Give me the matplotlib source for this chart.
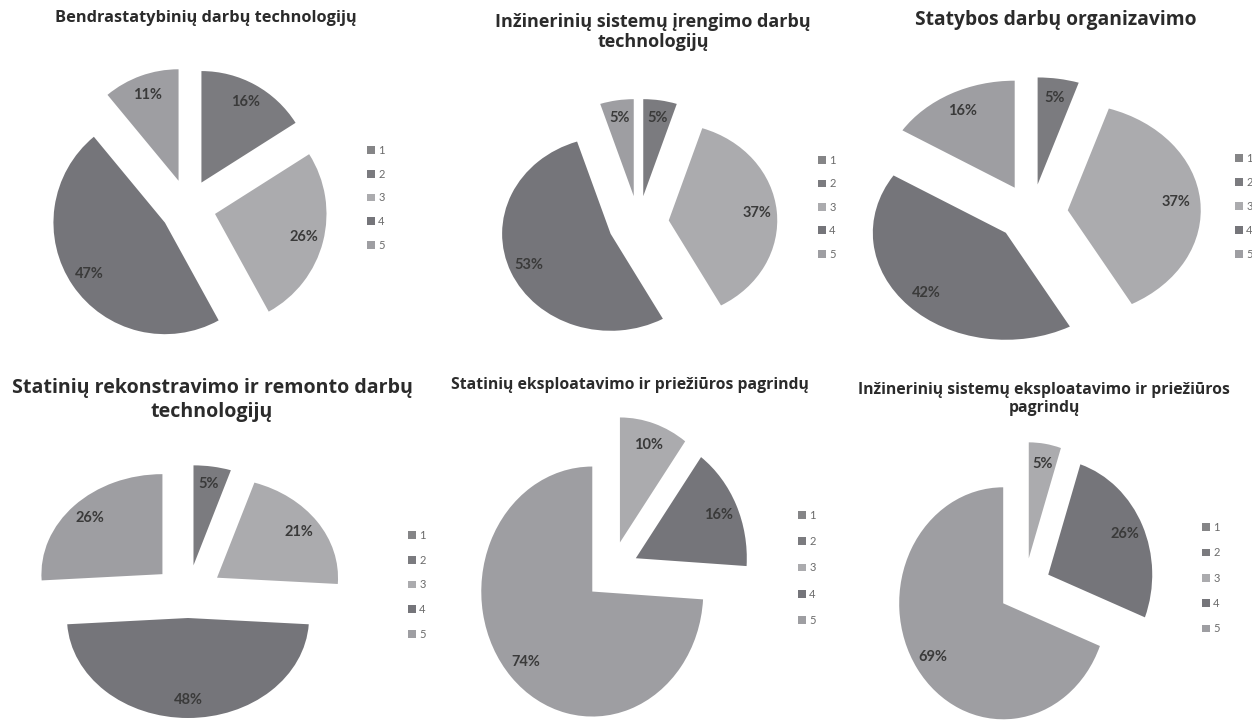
import matplotlib.pyplot as plt

W, H = 1252, 724

plt.rcParams['font.family'] = ['Lato', 'DejaVu Sans']

categories = ['1', '2', '3', '4', '5']
titles = [
    'Bendrastatybinių darbų technologijų',
    'Inžinerinių sistemų įrengimo darbų\ntechnologijų',
    'Statybos darbų organizavimo',
    'Statinių rekonstravimo ir remonto darbų\ntechnologijų',
    'Statinių eksploatavimo ir priežiūros pagrindų',
    'Inžinerinių sistemų eksploatavimo ir priežiūros\npagrindų',
]

# percentage of answers per category 1..5
shares_general = [0, 16, 26, 47, 11]
shares_eng_install = [0, 5, 37, 53, 5]
shares_organisation = [0, 5, 37, 42, 16]
shares_reconstruction = [0, 5, 21, 48, 26]
shares_building_maint = [0, 0, 10, 16, 74]
shares_eng_maint = [0, 0, 5, 26, 69]

all_shares = [shares_general, shares_eng_install, shares_organisation,
              shares_reconstruction, shares_building_maint, shares_eng_maint]

colors = ['#858587', '#7b7b7f', '#ababae', '#75757a', '#9e9ea2']

# pixel layout of each panel: pie centre, x/y radius, explode, title centre/size, legend top-left, row pitch
layout = [
    dict(c=(188, 207), r=(111.5, 111.5), ex=[0.25] * 5, t=(206, 18), ts=11.8, leg=(367, 152), pitch=26),
    dict(c=(638.5, 223), r=(108.5, 97), ex=[0.28] * 5, t=(653, 32), ts=13, leg=(818, 162), pitch=25.75),
    dict(c=(1032, 213), r=(133, 107), ex=[0.27] * 5, t=(1056, 20), ts=13.9, leg=(1235, 160), pitch=26.25),
    dict(c=(188, 594), r=(121, 100), ex=[0.29, 0.29, 0.29, 0.24, 0.29], t=(212, 400), ts=14.1, leg=(408, 537), pitch=27),
    dict(c=(611.7, 571), r=(111, 125), ex=[0.24] * 5, t=(630, 385), ts=11.3, leg=(798, 517), pitch=28.5),
    dict(c=(1024.7, 587), r=(104, 116), ex=[0.25] * 5, t=(1044, 399), ts=11.3, leg=(1202, 529), pitch=27.7),
]

LEG_FS = 8  # pt
fs_px = LEG_FS * 100 / 72

fig = plt.figure(figsize=(W / 100, H / 100), dpi=100)

for shares, title, lay in zip(all_shares, titles, layout):
    cx, cy = lay['c']
    rx, ry = lay['r']
    ax = fig.add_axes([(cx - 1.4 * rx) / W, 1 - (cy + 1.4 * ry) / H, 2.8 * rx / W, 2.8 * ry / H])
    wedges, _, autotexts = ax.pie(
        shares, colors=colors, explode=lay['ex'], startangle=90, counterclock=False,
        autopct=lambda p: f'{p:.0f}%' if p > 0.5 else '', pctdistance=0.82,
        wedgeprops=dict(linewidth=0),
        textprops=dict(fontsize=10.5, color='#3a3a3a', fontweight='bold'))
    ax.set_aspect('auto')
    ax.set_xlim(-1.4, 1.4)
    ax.set_ylim(-1.4, 1.4)

    tx, ty = lay['t']
    fig.text(tx / W, 1 - ty / H, title, ha='center', va='center', multialignment='center',
             fontsize=lay['ts'], fontweight='bold', color='#2b2b2b', linespacing=1.2,
             family=['Open Sans', 'DejaVu Sans'])

    lx, ly = lay['leg']
    ax.legend(wedges, categories, loc='upper left',
              bbox_to_anchor=(lx / W, 1 - (ly - 7) / H), bbox_transform=fig.transFigure,
              frameon=False, fontsize=LEG_FS, labelcolor='#6a6a6a',
              handlelength=0.7, handleheight=0.7, handletextpad=0.3,
              labelspacing=(lay['pitch'] - 1.2 * fs_px) / fs_px,
              borderpad=0, borderaxespad=0)

fig.savefig('out.png', dpi=100)
